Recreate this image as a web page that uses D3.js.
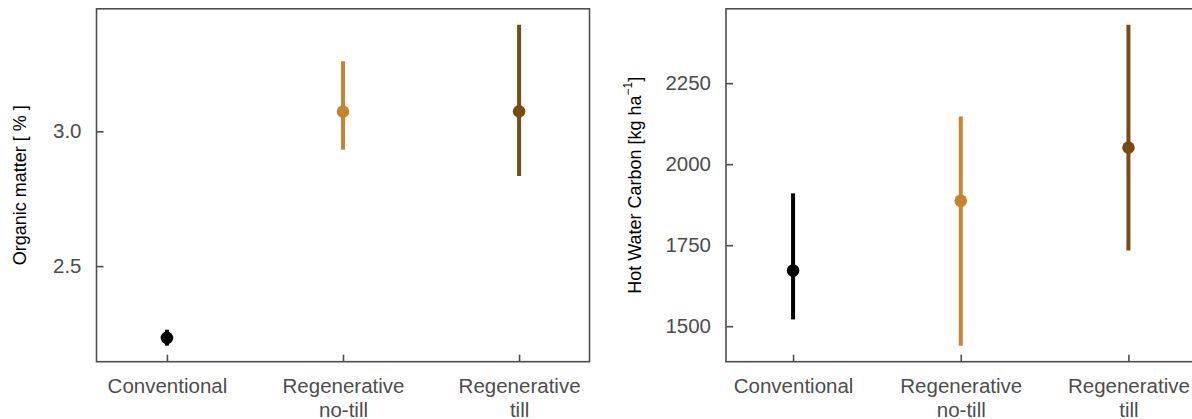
<!DOCTYPE html>
<html>
<head>
<meta charset="utf-8">
<script src="https://cdn.jsdelivr.net/npm/d3@7"></script>
<style>
  html, body { margin: 0; padding: 0; background: #fff; }
  svg { display: block; font-family: "Liberation Sans", Arial, sans-serif; }
</style>
</head>
<body>
<svg id="chart" width="1192" height="419"></svg>
<script>
// Management systems and their colours
const systems = ["Conventional", "Regenerative\nno-till", "Regenerative\ntill"];
const systemColors = ["#000000", "#C6842F", "#7B4A14"];

// Organic matter [%]: mean with lower / upper bounds
const omMean  = [2.234, 3.073, 3.074];
const omLower = [2.205, 2.932, 2.834];
const omUpper = [2.264, 3.260, 3.395];
const omTicks = [2.5, 3.0];

// Hot water carbon [kg ha-1]: mean with lower / upper bounds
const hwcMean  = [1672, 1887, 2051];
const hwcLower = [1521, 1440, 1734];
const hwcUpper = [1910, 2147, 2430];
const hwcTicks = [1500, 1750, 2000, 2250];

const svg = d3.select("#chart");
const panelTop = 8.8, panelBottom = 361.7;

function panel(opts) {
  const g = svg.append("g");
  const x = d3.scalePoint().domain(systems).range([opts.x0, opts.x1]).padding(0.4);
  const lo = d3.min(opts.lower), hi = d3.max(opts.upper);
  const pad = (hi - lo) * 0.05;
  const y = d3.scaleLinear().domain([lo - pad, hi + pad]).range([panelBottom, panelTop]);

  const rows = systems.map((s, i) => ({
    s, mean: opts.mean[i], lower: opts.lower[i], upper: opts.upper[i], color: systemColors[i]
  }));

  // error bars
  g.selectAll("line.err").data(rows).enter().append("line")
    .attr("x1", d => x(d.s)).attr("x2", d => x(d.s))
    .attr("y1", d => y(d.lower)).attr("y2", d => y(d.upper))
    .attr("stroke", d => d.color).attr("stroke-width", 4);

  // means
  g.selectAll("circle.pt").data(rows).enter().append("circle")
    .attr("cx", d => x(d.s)).attr("cy", d => y(d.mean)).attr("r", 6.3)
    .attr("fill", d => d.color);

  // panel border
  g.append("rect")
    .attr("x", opts.x0).attr("y", panelTop)
    .attr("width", opts.x1 - opts.x0).attr("height", panelBottom - panelTop)
    .attr("fill", "none").attr("stroke", "#4d4d4d").attr("stroke-width", 1.6);

  // y axis (inward ticks)
  const yAxis = d3.axisLeft(y).tickValues(opts.ticks).tickFormat(opts.fmt)
    .tickSizeInner(-7).tickSizeOuter(0).tickPadding(15);
  const ya = g.append("g").attr("transform", `translate(${opts.x0},0)`).call(yAxis);
  ya.select(".domain").remove();
  ya.selectAll(".tick line").attr("stroke", "#4d4d4d").attr("stroke-width", 1.6);
  ya.selectAll(".tick text").attr("fill", "#4d4d4d").attr("font-size", 20.5)
    .attr("font-family", "Liberation Sans, Arial, sans-serif");

  // x axis (inward ticks, two-line labels)
  const xAxis = d3.axisBottom(x).tickSizeInner(-7).tickSizeOuter(0).tickFormat("");
  const xa = g.append("g").attr("transform", `translate(0,${panelBottom})`).call(xAxis);
  xa.select(".domain").remove();
  xa.selectAll(".tick line").attr("stroke", "#4d4d4d").attr("stroke-width", 1.6);
  xa.selectAll(".tick").each(function(d) {
    const t = d3.select(this).append("text")
      .attr("fill", "#4d4d4d").attr("font-size", 20.5).attr("text-anchor", "middle")
      .attr("font-family", "Liberation Sans, Arial, sans-serif");
    d.split("\n").forEach((line, i) => {
      t.append("tspan").attr("x", 0).attr("y", 31 + i * 24.5).text(line);
    });
  });

  // y axis title
  const title = g.append("text")
    .attr("transform", `translate(${opts.titleX},${(panelTop + panelBottom) / 2}) rotate(-90)`)
    .attr("text-anchor", "middle").attr("font-size", 18).attr("fill", "#000");
  opts.title(title);
}

panel({
  x0: 96.5, x1: 589.5,
  mean: omMean, lower: omLower, upper: omUpper,
  ticks: omTicks, fmt: d3.format(".1f"), titleX: 26,
  title: t => t.text("Organic matter [ % ]")
});

panel({
  x0: 726, x1: 1195.5,
  mean: hwcMean, lower: hwcLower, upper: hwcUpper,
  ticks: hwcTicks, fmt: d3.format("d"), titleX: 640.5,
  title: t => {
    t.append("tspan").text("Hot Water Carbon [kg ha");
    t.append("tspan").attr("font-size", 12).attr("dy", -9).text("\u22121");
    t.append("tspan").attr("dy", 9).text("]");
  }
});
</script>
</body>
</html>
